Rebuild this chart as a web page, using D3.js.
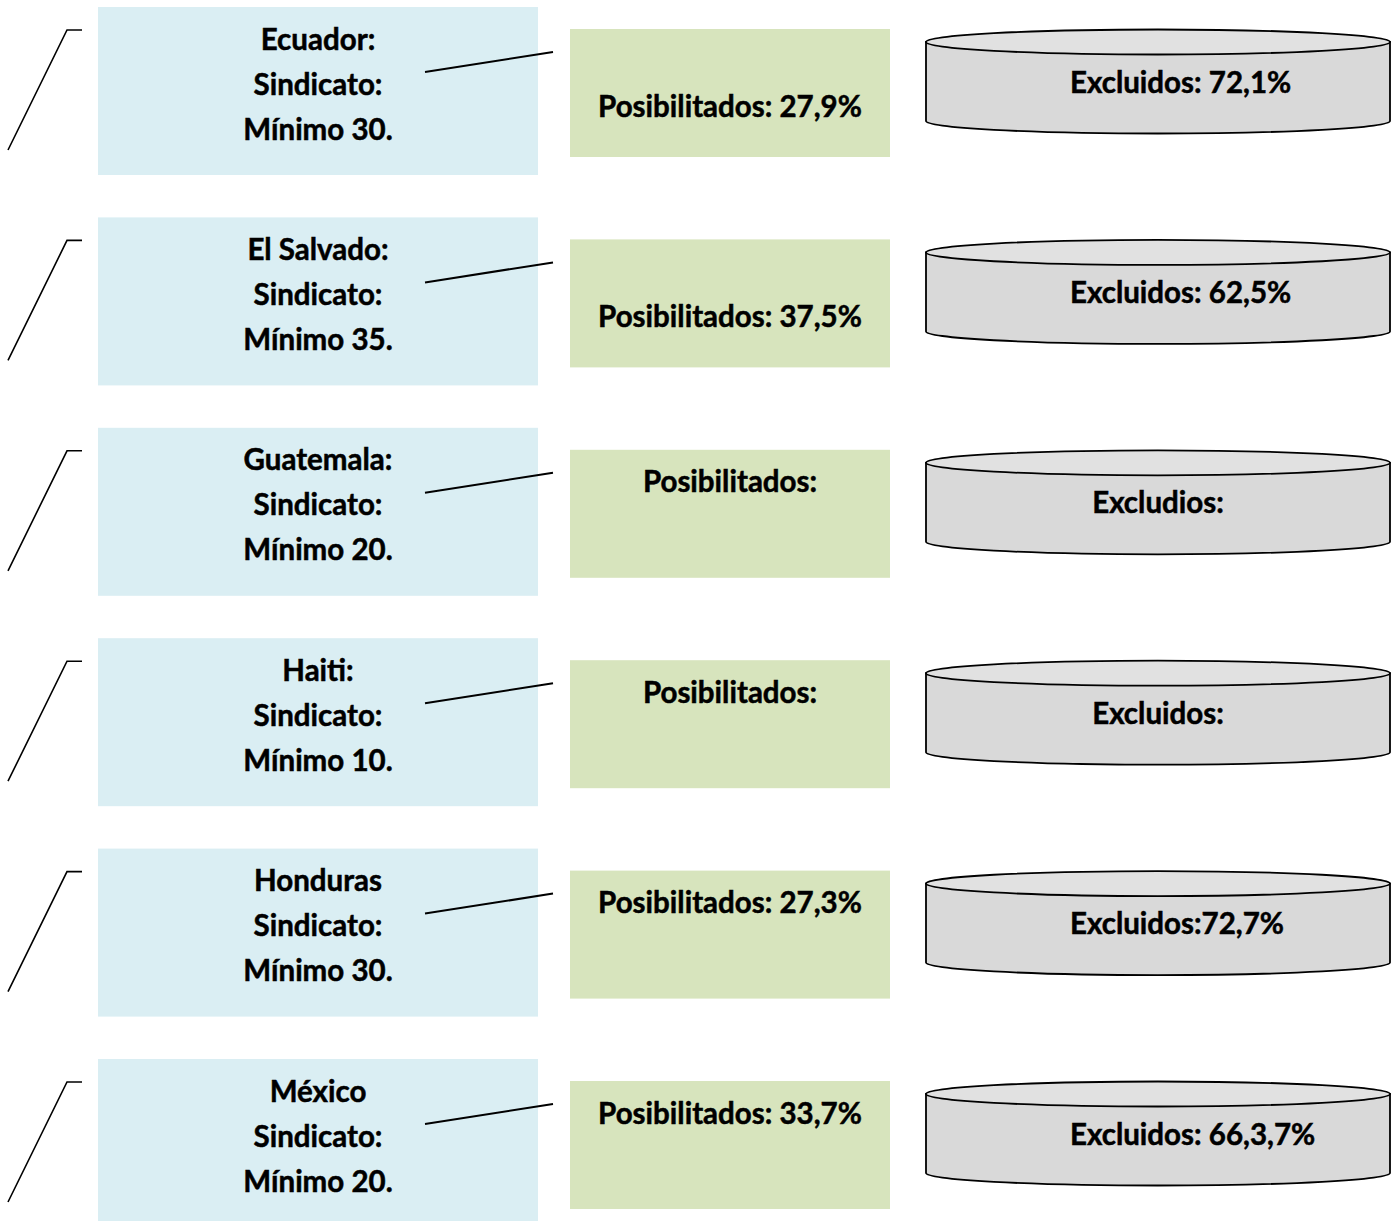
<!DOCTYPE html>
<html>
<head>
<meta charset="utf-8">
<script src="https://cdn.jsdelivr.net/npm/d3@7"></script>
<style>
  body { margin: 0; background: #fff; }
  text { font-family: Lato, "Open Sans", sans-serif; font-weight: bold; fill: #000; stroke: #000; stroke-width: 0.5px; }
</style>
</head>
<body>
<svg id="chart"></svg>
<script>
// data
const countries = ['Ecuador:', 'El Salvado:', 'Guatemala:', 'Haiti:', 'Honduras', 'México'];
const sindicatoLabel = ['Sindicato:', 'Sindicato:', 'Sindicato:', 'Sindicato:', 'Sindicato:', 'Sindicato:'];
const minimos = [30, 35, 20, 10, 30, 20];
const posibilitados = ['Posibilitados: 27,9%', 'Posibilitados: 37,5%', 'Posibilitados:', 'Posibilitados:', 'Posibilitados: 27,3%', 'Posibilitados: 33,7%'];
const excluidos = ['Excluidos: 72,1%', 'Excluidos: 62,5%', 'Excludios:', 'Excluidos:', 'Excluidos:72,7%', 'Excluidos: 66,3,7%'];
// layout quirks of the original (text placement inside the green box)
const greenAlign = ['middle', 'middle', 'top', 'top', 'top', 'top'];

const W = 1397, H = 1221;
const FS = 29.5;
const rows = countries.map((c, i) => ({
  country: c, sind: sindicatoLabel[i], min: minimos[i],
  pos: posibilitados[i], exc: excluidos[i], align: greenAlign[i]
}));

const svg = d3.select('#chart').attr('width', W).attr('height', H);

const y = d3.scaleBand()
  .domain(countries)
  .range([7, 7 + 6 * 210.4]);

const g = svg.selectAll('g.row')
  .data(rows)
  .join('g')
  .attr('class', 'row')
  .attr('transform', d => `translate(0,${y(d.country)})`);

// left bracket line
g.append('path')
  .attr('d', 'M8,143 L67,23 L82,23')
  .attr('fill', 'none')
  .attr('stroke', '#000')
  .attr('stroke-width', 1.6);

// blue box
g.append('rect')
  .attr('x', 98).attr('y', 0)
  .attr('width', 440).attr('height', 168)
  .attr('fill', '#daeef3');

const blueLines = d => [d.country, d.sind, `Mínimo ${d.min}.`];
g.each(function(d) {
  const sel = d3.select(this);
  blueLines(d).forEach((t, k) => {
    sel.append('text')
      .attr('x', 318).attr('y', 31 + k * 45)
      .attr('text-anchor', 'middle')
      .attr('dominant-baseline', 'central')
      .attr('font-size', FS)
      .text(t);
  });
});

// connector line
g.append('line')
  .attr('x1', 425).attr('y1', 65)
  .attr('x2', 553).attr('y2', 45)
  .attr('stroke', '#000')
  .attr('stroke-width', 2);

// green box
g.append('rect')
  .attr('x', 570).attr('y', 22)
  .attr('width', 320).attr('height', 128)
  .attr('fill', '#d7e4bd');

g.append('text')
  .attr('x', 730)
  .attr('y', d => d.align === 'middle' ? 98 : 53)
  .attr('text-anchor', 'middle')
  .attr('dominant-baseline', 'central')
  .attr('font-size', FS)
  .text(d => d.pos);

// cylinder
const cx0 = 926, cx1 = 1390, cTop = 35, cBot = 114, ry = 12.5;
const rx = (cx1 - cx0) / 2, ccx = (cx0 + cx1) / 2;

g.append('path')
  .attr('d', `M${cx0},${cTop} L${cx0},${cBot} A${rx},${ry} 0 0 0 ${cx1},${cBot} L${cx1},${cTop} Z`)
  .attr('fill', '#d9d9d9')
  .attr('stroke', '#000')
  .attr('stroke-width', 1.8);

g.append('ellipse')
  .attr('cx', ccx).attr('cy', cTop)
  .attr('rx', rx).attr('ry', ry)
  .attr('fill', '#e1e1e1')
  .attr('stroke', '#000')
  .attr('stroke-width', 1.8);

g.append('text')
  .attr('x', d => /\d/.test(d.exc) ? 1070 : ccx)
  .attr('y', 74)
  .attr('text-anchor', d => /\d/.test(d.exc) ? 'start' : 'middle')
  .attr('dominant-baseline', 'central')
  .attr('font-size', FS)
  .text(d => d.exc);
</script>
</body>
</html>
